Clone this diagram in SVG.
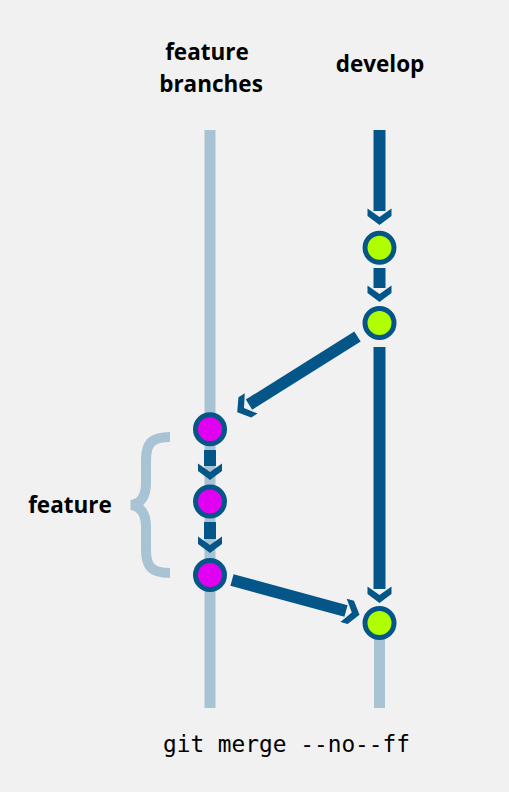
<svg xmlns="http://www.w3.org/2000/svg" width="509" height="792" viewBox="0 0 509 792">
<style>
.lbl{font-family:"Open Sans","Liberation Sans",sans-serif;font-weight:bold;font-size:22.5px;fill:#000;text-anchor:middle}
.code{font-family:"DejaVu Sans Mono","Liberation Mono",monospace;font-size:22.8px;fill:#000;text-anchor:middle}
.light{stroke:#a8c3d3;stroke-width:11;fill:none}
.bar{stroke:#045689;stroke-width:12;fill:none}
.chev{fill:#045689}
.dev{fill:#b0ff00;stroke:#045689;stroke-width:5}
.feat{fill:#e100f0;stroke:#045689;stroke-width:5}
</style>
<defs>
<path id="chev" d="M0,0 L-9,-12 L-16.5,-12 L-8,0 L-16.5,12 L-9,12 Z"/>
</defs>
<rect width="509" height="792" fill="#f1f1f1"/>
<text class="lbl" x="207" y="60">feature</text>
<text class="lbl" x="211" y="92">branches</text>
<text class="lbl" x="380" y="72">develop</text>
<text class="lbl" x="70" y="513">feature</text>
<text class="code" x="286.5" y="752">git merge --no--ff</text>
<g id="lanes">
<line class="light" x1="210" y1="130" x2="210" y2="708"/>
<line class="light" x1="379.5" y1="623" x2="379.5" y2="708"/>
</g>
<g id="brace">
<path d="M170,437 C151,437 146,444 146,460 L146,483 C146,496 141,504 131,505 C141,506 146,514 146,527 L146,550 C146,566 151,573 170,573" fill="none" stroke="#a8c3d3" stroke-width="10" stroke-linejoin="miter"/>
</g>
<g id="connectors">
<line class="bar" x1="379.5" y1="130" x2="379.5" y2="211"/>
<use href="#chev" class="chev" transform="translate(379.5,225) rotate(90)"/>
<line class="bar" x1="379.5" y1="268" x2="379.5" y2="288"/>
<use href="#chev" class="chev" transform="translate(379.5,302) rotate(90)"/>
<line class="bar" x1="379.5" y1="347" x2="379.5" y2="589"/>
<use href="#chev" class="chev" transform="translate(379.5,603) rotate(90)"/>
<line class="bar" x1="210" y1="450" x2="210" y2="466"/>
<use href="#chev" class="chev" transform="translate(210,480) rotate(90)"/>
<line class="bar" x1="210" y1="522" x2="210" y2="539"/>
<use href="#chev" class="chev" transform="translate(210,553) rotate(90)"/>
<line class="bar" x1="357.5" y1="336.5" x2="249" y2="404.6"/>
<use href="#chev" class="chev" transform="translate(237.2,412.2) rotate(147.9)"/>
<line class="bar" x1="232" y1="580" x2="346" y2="611"/>
<use href="#chev" class="chev" transform="translate(359.5,614.7) rotate(15.2)"/>
</g>
<g id="d1"><circle class="dev" cx="379.5" cy="247.7" r="14.5"/></g>
<g id="d2"><circle class="dev" cx="379.5" cy="323" r="14.5"/></g>
<g id="d3"><circle class="dev" cx="379.5" cy="623" r="14.5"/></g>
<g id="f1"><circle class="feat" cx="210" cy="429.3" r="14.5"/></g>
<g id="f2"><circle class="feat" cx="210" cy="501.5" r="14.5"/></g>
<g id="f3"><circle class="feat" cx="210" cy="575" r="14.5"/></g>
</svg>
